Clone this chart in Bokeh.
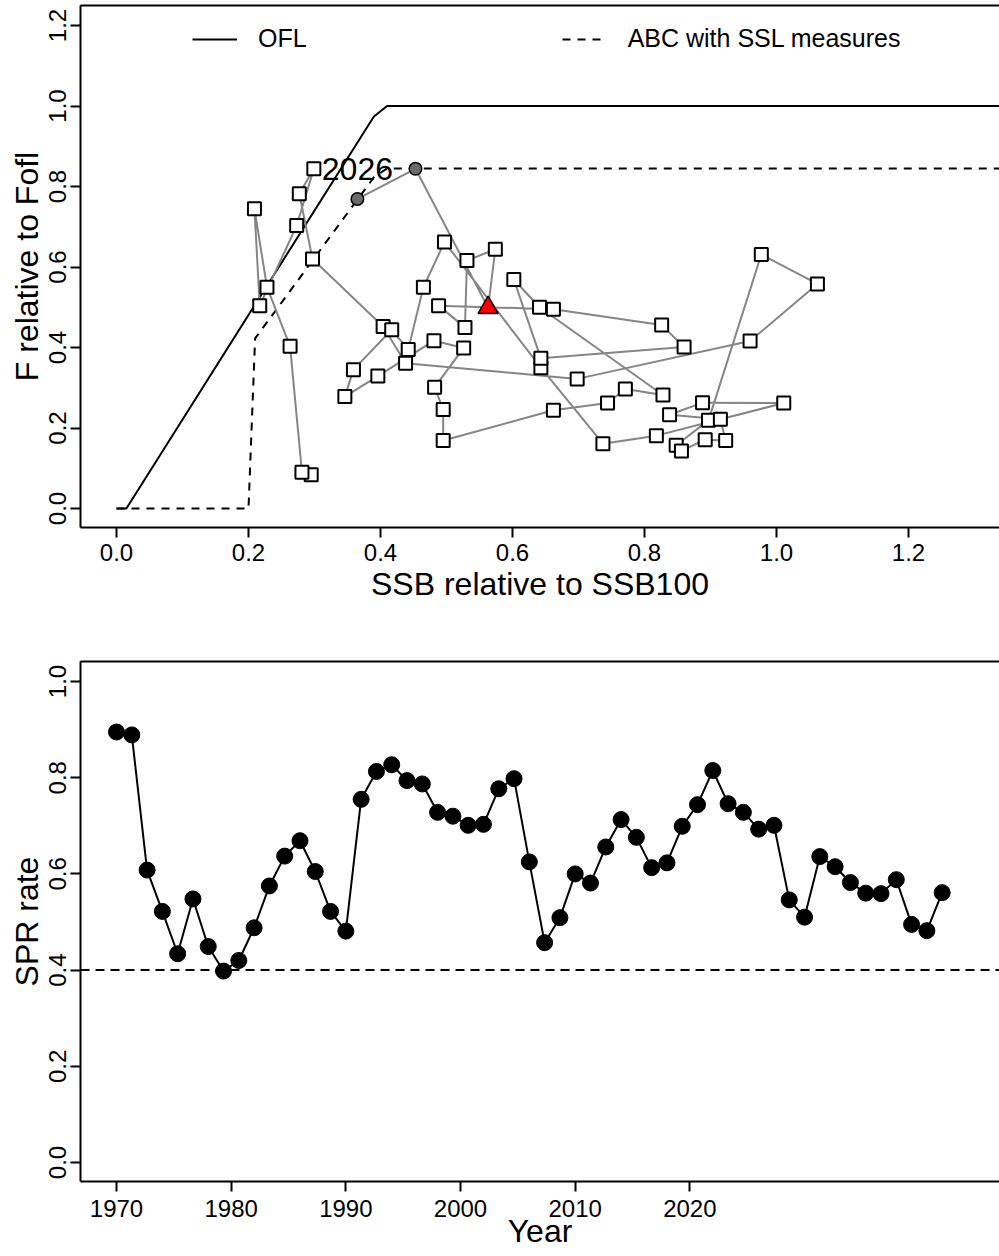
from bokeh.plotting import figure
from bokeh.models import (Range1d, FixedTicker, Legend, LegendItem, LinearAxis,
                          Span)
from bokeh.layouts import column
from bokeh.embed import file_html
from bokeh.resources import INLINE
from bokeh.core.properties import value

FONT = "Liberation Sans"

# ---------------- data: phase plane (top) ----------------
phase_years = list(range(1970, 2025))
ssb_rel = [0.295, 0.281, 0.263, 0.228, 0.209, 0.217, 0.273, 0.299, 0.277, 0.297,
           0.404, 0.438, 0.698, 0.960, 1.062, 0.977, 0.897, 0.848, 0.856, 0.892,
           0.923, 0.915, 0.838, 0.888, 1.011, 0.818, 0.737, 0.643, 0.497, 0.465,
           0.442, 0.417, 0.359, 0.346, 0.396, 0.481, 0.526, 0.482, 0.495, 0.495,
           0.662, 0.744, 0.771, 0.828, 0.641, 0.602, 0.643, 0.860, 0.826, 0.662,
           0.488, 0.528, 0.531, 0.574, 0.563]
f_rel = [0.084, 0.090, 0.403, 0.550, 0.745, 0.504, 0.703, 0.844, 0.782, 0.620,
         0.452, 0.361, 0.322, 0.416, 0.558, 0.631, 0.219, 0.157, 0.143, 0.171,
         0.169, 0.222, 0.233, 0.263, 0.262, 0.181, 0.161, 0.350, 0.662, 0.550,
         0.395, 0.444, 0.345, 0.278, 0.329, 0.417, 0.399, 0.301, 0.246, 0.169,
         0.244, 0.262, 0.297, 0.282, 0.500, 0.569, 0.373, 0.401, 0.456, 0.495,
         0.504, 0.450, 0.616, 0.644, 0.499]
proj_years = [2025, 2026]
proj_ssb = [0.453, 0.365]
proj_f = [0.844, 0.769]

# harvest control rules
ofl_x = [0.0, 0.015, 0.39, 0.41, 1.5]
ofl_y = [0.0, 0.0, 0.974, 1.0, 1.0]
abc_x = [0.0, 0.20, 0.21, 0.39, 0.41, 1.5]
abc_y = [0.0, 0.0, 0.4225, 0.823, 0.845, 0.845]

# ---------------- data: SPR rate (bottom) ----------------
spr_years = list(range(1970, 2025))
spr_rate = [0.895, 0.889, 0.608, 0.522, 0.434, 0.548, 0.449, 0.398, 0.420, 0.488,
            0.575, 0.637, 0.669, 0.605, 0.522, 0.481, 0.755, 0.813, 0.827, 0.794,
            0.787, 0.728, 0.720, 0.701, 0.703, 0.777, 0.798, 0.625, 0.457, 0.509,
            0.600, 0.581, 0.656, 0.713, 0.676, 0.613, 0.623, 0.699, 0.744, 0.815,
            0.746, 0.728, 0.693, 0.701, 0.546, 0.510, 0.636, 0.615, 0.582, 0.560,
            0.559, 0.588, 0.495, 0.482, 0.561]
spr_ref = 0.4
year_tick_labels = [1970, 1980, 1990, 2000, 2010, 2020]
unit_ticks = [0.0, 0.2, 0.4, 0.6, 0.8, 1.0, 1.2]


def style_axes(p, xticks, xlabels, yticks):
    p.grid.visible = False
    p.outline_line_color = None
    for ax in p.axis:
        ax.axis_line_width = 2
        ax.axis_line_color = "black"
        ax.major_tick_line_width = 2
        ax.major_tick_line_color = "black"
        ax.major_tick_in = 0
        ax.major_tick_out = 10
        ax.minor_tick_line_color = None
        ax.major_label_text_font = FONT
        ax.major_label_text_font_size = "24px"
        ax.major_label_text_color = "black"
        ax.axis_label_text_font = FONT
        ax.axis_label_text_font_size = "32px"
        ax.axis_label_text_font_style = "normal"
        ax.axis_label_text_color = "black"
    p.xaxis.ticker = FixedTicker(ticks=xticks)
    p.xaxis.major_label_overrides = dict(zip(xticks, xlabels))
    p.yaxis.ticker = FixedTicker(ticks=yticks)
    p.yaxis.major_label_overrides = {t: f"{t:.1f}" for t in yticks}
    p.yaxis.major_label_orientation = "vertical"
    p.yaxis.major_label_standoff = 4
    p.yaxis.axis_label_standoff = 2
    # top edge of the box
    top = LinearAxis(ticker=FixedTicker(ticks=[]), major_tick_out=0, major_tick_in=0,
                     major_label_standoff=0, axis_label_standoff=0,
                     axis_line_width=2, axis_line_color="black",
                     minor_tick_line_color=None, major_tick_line_color=None,
                     major_label_text_alpha=0)
    p.add_layout(top, "above")


# ---------------- top figure ----------------
p1 = figure(width=999, height=640, output_backend="svg", toolbar_location=None,
            x_range=Range1d(-0.05455, 1.3379), y_range=Range1d(-0.0472, 1.2497),
            min_border_left=80, min_border_right=0, min_border_top=5,
            min_border_bottom=113)
p1.xaxis.axis_label = "SSB relative to SSB100"
p1.yaxis.axis_label = "F relative to Fofl"
style_axes(p1, unit_ticks, [f"{t:.1f}" for t in unit_ticks], unit_ticks)
p1.xaxis.major_label_standoff = 6
p1.xaxis.axis_label_standoff = 2

r_ofl = p1.line(ofl_x, ofl_y, line_color="black", line_width=2)
r_abc = p1.line(abc_x, abc_y, line_color="black", line_width=2, line_dash="8 7")

path_x = ssb_rel + proj_ssb
path_y = f_rel + proj_f
p1.line(path_x, path_y, line_color="#858585", line_width=2)
p1.scatter(ssb_rel[:-1], f_rel[:-1], marker="square", size=13,
           fill_color="white", line_color="black", line_width=2)
p1.scatter(ssb_rel[-1:], f_rel[-1:], marker="triangle", size=20,
           fill_color="#ff0000", line_color="black", line_width=1.5)
p1.scatter(proj_ssb, proj_f, marker="circle", size=12.5,
           fill_color="#6b6b6b", line_color="black", line_width=1.5)
p1.text(x=proj_ssb[-1:], y=proj_f[-1:], text=[str(proj_years[-1])],
        text_align="center", text_baseline="middle", y_offset=-30,
        text_font=value(FONT), text_font_size="32px", text_color="black")

legend = Legend(items=[LegendItem(label="OFL", renderers=[r_ofl]),
                       LegendItem(label="ABC with SSL measures", renderers=[r_abc])],
                orientation="horizontal", location=(112, 474),
                glyph_width=45, glyph_height=28, label_height=28,
                label_standoff=21, spacing=255, padding=0, margin=0,
                border_line_color=None, background_fill_alpha=0,
                label_text_font=FONT, label_text_font_size="25px",
                label_text_color="black")
p1.add_layout(legend)

# ---------------- bottom figure ----------------
px_per_year = 15.29
p2 = figure(width=999, height=616, output_backend="svg", toolbar_location=None,
            x_range=Range1d(1970 - 36 / px_per_year, 1970 + 883 / px_per_year),
            y_range=Range1d(-0.0395, 1.0416),
            min_border_left=80, min_border_right=0, min_border_top=21,
            min_border_bottom=75)
p2.xaxis.axis_label = "Year"
p2.yaxis.axis_label = "SPR rate"
tick_pos = [1970 + (t - 1970) * 0.75 for t in year_tick_labels]
style_axes(p2, tick_pos, [str(t) for t in year_tick_labels], unit_ticks[:6])
p2.xaxis.major_label_standoff = 8
p2.xaxis.axis_label_standoff = -7

p2.add_layout(Span(location=spr_ref, dimension="width", line_color="black",
                   line_width=2, line_dash="9 6"))
p2.line(spr_years, spr_rate, line_color="black", line_width=2)
p2.scatter(spr_years, spr_rate, marker="circle", size=16,
           fill_color="black", line_color="black")

layout = column(p1, p2, spacing=0)
open("out.html", "w").write(file_html(layout, INLINE))
